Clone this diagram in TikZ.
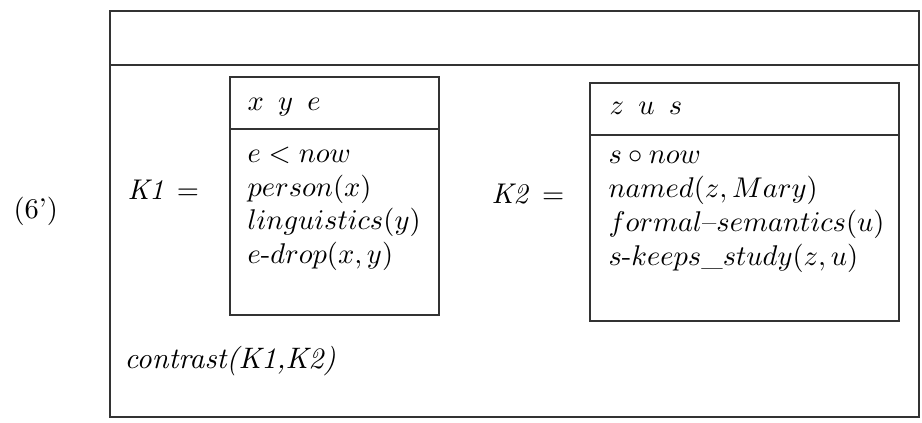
\documentclass[tikz,border=0pt]{standalone}
\begin{document}
\begin{tikzpicture}[x=1pt,y=-1pt,
  txt/.style={anchor=base west,inner sep=0pt,scale=2.85,transform shape,font=\fontsize{10}{12}\selectfont},
  boxline/.style={line width=1.3pt,draw=black!80}]
\useasboundingbox (0,0) rectangle (922,423);
% outer box
\draw[boxline] (110,11) rectangle (919,417);
\draw[boxline] (110,65) -- (919,65);
% K1 box
\draw[boxline] (230,77) rectangle (439,315);
\draw[boxline] (230,129) -- (439,129);
% K2 box
\draw[boxline] (590,83) rectangle (899,321);
\draw[boxline] (590,135) -- (899,135);
% labels
\node[txt] (num) at (13,218) {(6')};
\node[txt] (k1) at (127,199) {\textit{K1}\hspace{4.5pt}$=$};
\node[txt] (k2) at (491,203) {\textit{K2}\hspace{4.5pt}$=$};
% K1 contents
\node[txt] (h1) at (247,110) {$x\hspace{5pt}y\hspace{5pt}e$};
\node[txt] (a1) at (247,162) {$e<now$};
\node[txt] (a2) at (247,196) {$person(x)$};
\node[txt] (a3) at (247,229) {$linguistics(y)$};
\node[txt] (a4) at (247,263) {$e$-$drop(x,y)$};
% K2 contents
\node[txt] (h2) at (609,114) {$z\hspace{5pt}u\hspace{5pt}s$};
\node[txt] (b1) at (608,163) {$s\circ now$};
\node[txt] (b2) at (608,197) {$named(z,Mary)$};
\node[txt] (b3) at (608,231) {$formal$--$semantics(u)$};
\node[txt] (b4) at (608,265) {$s$-$keeps\_study(z,u)$};
% condition
\node[txt,scale=1.04] (c) at (124,368) {\textit{contrast(K1,K2)}};
\end{tikzpicture}
\end{document}
